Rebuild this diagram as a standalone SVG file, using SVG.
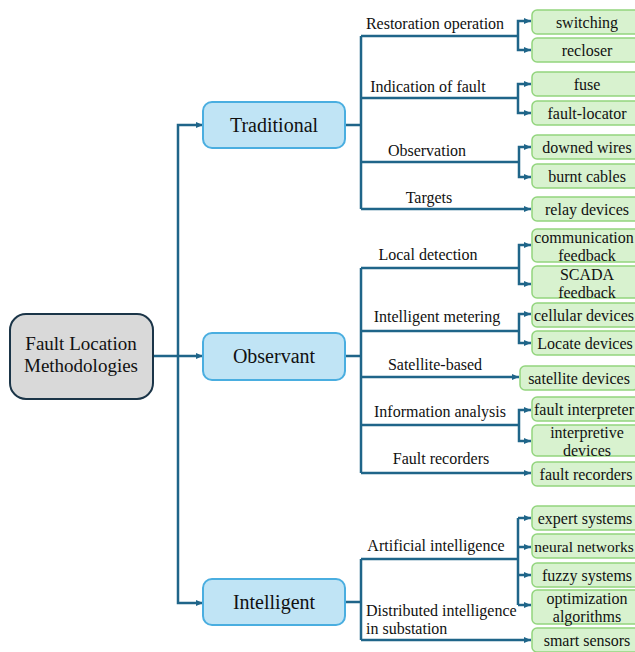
<svg xmlns="http://www.w3.org/2000/svg" width="635" height="652" viewBox="0 0 635 652" font-family="Liberation Serif, DejaVu Serif, serif">
<defs>
<marker id="ah" markerWidth="7" markerHeight="6" refX="7" refY="3" orient="auto" markerUnits="userSpaceOnUse">
<path d="M0,0 L7,3 L0,6 Z" fill="#1f6589"/>
</marker>
<style>
text{fill:#111;dominant-baseline:central;text-anchor:middle}
.root rect{fill:#d9d9d9;stroke:#1b3548;stroke-width:2}
.cat rect{fill:#c0e4f5;stroke:#4aaee0;stroke-width:2}
.leaf rect{fill:#d8f2cf;stroke:#93d57e;stroke-width:1.5}
.cat text{font-size:20px}
.root text{font-size:19px}
.leaf text{font-size:16px}
.lbl{font-size:16px}
#connectors path{fill:none;stroke:#1f6589;stroke-width:2.5}
#connectors path.a{marker-end:url(#ah)}
</style>
</defs>
<rect width="635" height="652" fill="#fff"/>
<g id="connectors">
<path class="a" d="M153,356 H203"/>
<path class="a" d="M178,356 V125 H203"/>
<path class="a" d="M178,356 V603 H203"/>
<path d="M345,125 H361 M361,36 V209"/>
<path d="M361,36 H518"/>
<path class="a" d="M518,36 V21 H531"/>
<path class="a" d="M518,36 V50 H531"/>
<path d="M361,98 H518"/>
<path class="a" d="M518,98 V84 H531"/>
<path class="a" d="M518,98 V113 H531"/>
<path d="M361,162 H519"/>
<path class="a" d="M519,162 V147 H531"/>
<path class="a" d="M519,162 V177 H531"/>
<path class="a" d="M361,209 H531"/>
<path d="M345,356 H361 M361,268 V473"/>
<path d="M361,268 H519"/>
<path class="a" d="M519,268 V245 H531"/>
<path class="a" d="M519,268 V284 H531"/>
<path d="M361,331 H519"/>
<path class="a" d="M519,331 V314 H531"/>
<path class="a" d="M519,331 V343 H531"/>
<path class="a" d="M361,377 H519"/>
<path d="M361,425 H519"/>
<path class="a" d="M519,425 V410 H531"/>
<path class="a" d="M519,425 V441 H531"/>
<path class="a" d="M361,473 H531"/>
<path d="M345,602 H361 M361,559 V640"/>
<path d="M361,559 H518 M518,518 V605"/>
<path class="a" d="M518,518 H531"/>
<path class="a" d="M518,547 H531"/>
<path class="a" d="M518,575 H531"/>
<path class="a" d="M518,605 H531"/>
<path class="a" d="M361,640 H531"/>
</g>
<g id="labels">
<text class="lbl" x="435" y="23">Restoration operation</text>
<text class="lbl" x="428" y="86">Indication of fault</text>
<text class="lbl" x="427" y="150">Observation</text>
<text class="lbl" x="429" y="197">Targets</text>
<text class="lbl" x="428" y="254">Local detection</text>
<text class="lbl" x="437" y="316">Intelligent metering</text>
<text class="lbl" x="435" y="364">Satellite-based</text>
<text class="lbl" x="440" y="411">Information analysis</text>
<text class="lbl" x="441" y="458">Fault recorders</text>
<text class="lbl" x="436" y="545">Artificial intelligence</text>
<text class="lbl" x="366" y="610" style="text-anchor:start">Distributed intelligence</text>
<text class="lbl" x="366" y="628" style="text-anchor:start">in substation</text>
</g>
<g id="root" class="root"><rect x="10" y="314" width="143" height="85" rx="16"/><text x="81" y="343">Fault Location</text><text x="81" y="365">Methodologies</text></g>
<g id="traditional" class="cat"><rect x="203" y="102" width="142" height="46" rx="9"/><text x="274" y="125">Traditional</text></g>
<g id="observant" class="cat"><rect x="203" y="333" width="142" height="47" rx="9"/><text x="274" y="356">Observant</text></g>
<g id="intelligent" class="cat"><rect x="203" y="579" width="142" height="46" rx="9"/><text x="274" y="602">Intelligent</text></g>
<g id="switching" class="leaf"><rect x="532" y="10" width="110" height="24" rx="5"/><text x="587" y="22">switching</text></g>
<g id="recloser" class="leaf"><rect x="532" y="38" width="110" height="24" rx="5"/><text x="587" y="50">recloser</text></g>
<g id="fuse" class="leaf"><rect x="532" y="72" width="110" height="24" rx="5"/><text x="587" y="84">fuse</text></g>
<g id="fault-locator" class="leaf"><rect x="532" y="101" width="110" height="24" rx="5"/><text x="587" y="113">fault-locator</text></g>
<g id="downed-wires" class="leaf"><rect x="532" y="135" width="110" height="24" rx="5"/><text x="587" y="147">downed wires</text></g>
<g id="burnt-cables" class="leaf"><rect x="532" y="164" width="110" height="24" rx="5"/><text x="587" y="176">burnt cables</text></g>
<g id="relay-devices" class="leaf"><rect x="532" y="197" width="110" height="24" rx="5"/><text x="587" y="209">relay devices</text></g>
<g id="communication-feedback" class="leaf"><rect x="532" y="229" width="110" height="33" rx="5"/><text x="584" y="237">communication</text><text x="587" y="255">feedback</text></g>
<g id="scada-feedback" class="leaf"><rect x="532" y="266" width="110" height="32" rx="5"/><text x="587" y="274">SCADA</text><text x="587" y="292">feedback</text></g>
<g id="cellular-devices" class="leaf"><rect x="532" y="303" width="110" height="24" rx="5"/><text x="584" y="315">cellular devices</text></g>
<g id="locate-devices" class="leaf"><rect x="532" y="331" width="110" height="24" rx="5"/><text x="585" y="343">Locate devices</text></g>
<g id="satellite-devices" class="leaf"><rect x="520" y="366" width="118" height="24" rx="5"/><text x="579" y="378">satellite devices</text></g>
<g id="fault-interpreter" class="leaf"><rect x="532" y="397" width="110" height="24" rx="5"/><text x="584" y="409">fault interpreter</text></g>
<g id="interpretive-devices" class="leaf"><rect x="532" y="425" width="110" height="31" rx="5"/><text x="587" y="432">interpretive</text><text x="587" y="450">devices</text></g>
<g id="fault-recorders" class="leaf"><rect x="532" y="462" width="110" height="24" rx="5"/><text x="586" y="474">fault recorders</text></g>
<g id="expert-systems" class="leaf"><rect x="532" y="506" width="110" height="24" rx="5"/><text x="585" y="518">expert systems</text></g>
<g id="neural-networks" class="leaf"><rect x="532" y="534" width="110" height="24" rx="5"/><text x="584" y="546" style="font-size:15.5px">neural networks</text></g>
<g id="fuzzy-systems" class="leaf"><rect x="532" y="563" width="110" height="24" rx="5"/><text x="587" y="575">fuzzy systems</text></g>
<g id="optimization-algorithms" class="leaf"><rect x="532" y="590" width="110" height="34" rx="5"/><text x="587" y="598">optimization</text><text x="587" y="616">algorithms</text></g>
<g id="smart-sensors" class="leaf"><rect x="532" y="628" width="110" height="24" rx="5"/><text x="587" y="640">smart sensors</text></g>
</svg>
